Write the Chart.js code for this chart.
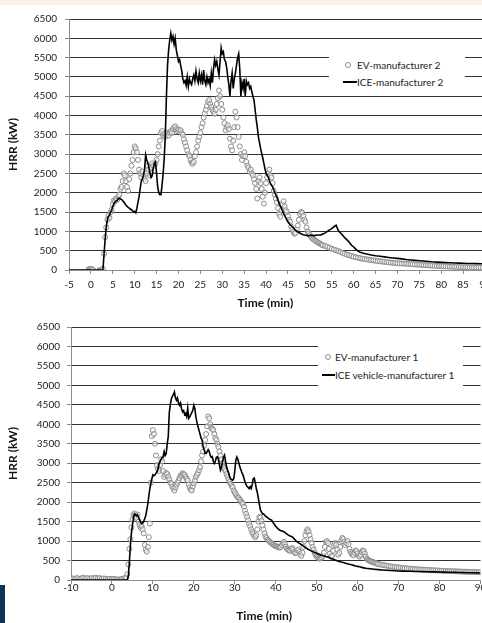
<!DOCTYPE html>
<html>
<head>
<meta charset="utf-8">
<script src="https://cdn.jsdelivr.net/npm/chart.js@4.4.0/dist/chart.umd.min.js"></script>
<style>
html,body{margin:0;padding:0;background:#fff;overflow:hidden;width:482px;height:623px;position:relative;}
#strip{position:absolute;left:0;top:0;width:482px;height:5px;background:#fbf1e6;}
#navy{position:absolute;left:0;top:585px;width:5px;height:38px;background:#0b3457;}
.wrap{position:absolute;left:0;width:500px;}
#w1{top:0;height:310px;}
#w2{top:312px;height:311px;}
.legend{position:absolute;background:#fff;font-family:Lato,'DejaVu Sans',sans-serif;font-size:10px;color:#222;z-index:5;}
.legend .row{position:absolute;height:12px;line-height:12px;white-space:nowrap;}
.legend .txt{position:absolute;top:0;}
.legend .dot{position:absolute;width:4px;height:4px;border:1px solid #8f8f8f;border-radius:50%;top:3px;background:#fff;}
.legend .ln{position:absolute;height:2px;background:#000;top:5px;}
</style>
</head>
<body>
<div id="strip"></div>
<div class="wrap" id="w1"><canvas id="c1"></canvas></div>
<div class="wrap" id="w2"><canvas id="c2"></canvas></div>
<div id="navy"></div>
<div class="legend" id="lg1" style="left:329px;top:44px;width:136px;height:48px;"></div>
<div class="legend" id="lg2" style="left:318px;top:336px;width:145px;height:60px;"></div>
<script>
// ---------- tick labels ----------
const yTicks = [0,500,1000,1500,2000,2500,3000,3500,4000,4500,5000,5500,6000,6500];
const xTicksTop = [-5,0,5,10,15,20,25,30,35,40,45,50,55,60,65,70,75,80,85,90];
const xTicksBottom = [-10,0,10,20,30,40,50,60,70,80,90];

// ---------- series names ----------
const topSeriesNames = ['EV-manufacturer 2','ICE-manufacturer 2'];
const bottomSeriesNames = ['EV-manufacturer 1','ICE vehicle-manufacturer 1'];

// ---------- TOP: EV-manufacturer 2 (HRR kW) ----------
// from -0.5 min every 0.25 min
const ev2A = [20,10,30,20,0];
// from 2.0 min every 0.25 min (one row per minute)
const ev2B = [
 0,0,0,30,
 420,850,1100,1300,
 1400,1350,1500,1560,
 1700,1800,1780,1850,
 1820,1900,1950,2100,
 2150,2300,2500,2450,
 2300,2150,2050,2350,
 2500,2700,2850,3050,
 3200,3150,3050,2850,
 2600,2500,2400,2550,
 2450,2350,2300,2500,
 2700,2600,2450,2650,
 2760,2700,2580,2750,
 2850,3000,3200,3350,
 3550,3600,3480,3520,
 3450,3500,3550,3480,
 3560,3600,3550,3650,
 3700,3720,3650,3600,
 3640,3580,3620,3540,
 3500,3380,3300,3200,
 3100,3000,2950,2850,
 2780,2750,2800,2950,
 3050,3200,3350,3450,
 3550,3700,3800,3950,
 4050,4150,4250,4350,
 4400,4300,4220,4150,
 4100,4050,4150,4300,
 4450,4650,4500,4300,
 4150,3950,3800,3620,
 3700,3750,3650,3400,
 3200,3100,3350,3700,
 4100,3950,3700,3450,
 3200,3000,2850,2950,
 3050,2950,2800,2700,
 2650,2550,2600,2500,
 2450,2350,2250,2100,
 1850,2300,2400,2250,
 2100,1900,1720,2000,
 2250,2400,2500,2600,
 2450,2400,2250,2050,
 1950,1850,1750,1600,
 1450,1380,1550,1700,
 1780,1650,1550,1500,
 1400,1300,1250,1120,
 1050,980,940,960,
 1050,1150,1300,1450,
 1500,1480,1400,1300,
 1250,1100,1000,950,
 900,860,830,800,
 780,760,740,720,
 700,690,670,650
];
// from 53 min every 0.5 min
const ev2C = [
 640,620,600,575,550,530,510,490,465,440,420,400,380,360,345,330,318,305,295,285,
 275,265,255,248,240,232,225,218,212,205,198,192,186,180,176,172,168,164,160,156,
 152,148,144,140,136,132,128,124,120,117,114,110,106,103,100,97,94,91,88,85,
 82,80,78,76,74,72,70,68,66,65,64,63,62,61,60
];

// ---------- TOP: ICE-manufacturer 2 (HRR kW) ----------
// from -5 min every 1 min
const ice2A = [0,0,0,0,0,0,0];
// from 2.0 min every 0.25 min
const ice2B = [
 0,0,0,10,
 400,800,1100,1300,
 1380,1420,1500,1550,
 1650,1720,1760,1790,
 1800,1850,1860,1840,
 1830,1800,1760,1720,
 1680,1650,1620,1600,
 1580,1560,1540,1500,
 1520,1480,1600,1750,
 1900,2100,2300,2350,
 2450,2600,2980,2850,
 2780,2650,2500,2400,
 2450,2650,2750,2800,
 2500,2150,2000,1950,
 1950,2200,2500,2900,
 3500,4500,5300,5700,
 5950,6130,5950,6050,
 5850,6000,5700,5550,
 5400,5450,5300,5150,
 4950,4850,4900,4780,
 5000,4750,4950,4850,
 4800,4950,5050,4900,
 5150,4950,4850,5100,
 4900,5050,4800,5180,
 4900,4800,5000,4850,
 4950,4780,5100,4850,
 5200,5450,5300,5400,
 5200,5050,5400,5750,
 5600,5650,5450,5400,
 5250,5000,4800,4500,
 4900,5100,4700,4950,
 5100,5300,5500,5600,
 5200,4500,4850,4700,
 4950,4500,4900,4800,
 4850,4700,4750,4620,
 4500,4400,4150,3900,
 3700,3450,3300,3150,
 3020,2900,2760,2620
];
// from 40 min every 0.5 min
const ice2C = [
 2500,2400,2240,2150,2000,1880,1720,1600,1460,1350,
 1250,1170,1120,1060,1010,970,940,915,900,890,
 895,900,890,900,905,910,930,960,1000,1040,
 1070,1120,1160,1020,960,900,830,780,720,640,
 600,540,490,460
];
// from 62 min every 1 min
const ice2D = [440,415,390,370,355,340,325,312,300,288,272,260,250,240,232,222,212,205,198,192,186,180,178,175,170,168,165,162,160];

// ---------- BOTTOM: EV-manufacturer 1 (HRR kW) ----------
// from -10 min every 0.5 min
const ev1A = [20,40,30,50,30,40,60,40,50,30,50,40,60,40,50,30,40,30,20,30,20,30,20,10,20,30];
// from 3.0 min every 0.25 min
const ev1B = [
 40,50,60,150,
 400,800,1050,1350,
 1550,1680,1710,1650,
 1600,1680,1500,1420,
 1350,1380,1300,1200,
 900,780,730,850,
 1100,1450,2500,3700,
 3850,3750,3500,3200,
 2950,2850,2800,2950,
 3100,3050,2800,2650,
 2700,2750,2720,2650,
 2580,2500,2480,2400,
 2350,2300,2380,2450,
 2500,2550,2620,2680,
 2700,2740,2720,2700,
 2650,2600,2560,2450,
 2380,2320,2300,2400,
 2480,2550,2650,2700,
 2750,2820,2900,3050,
 3200,3300,3450,3600,
 3750,3950,4200,4150,
 4000,3900,3880,3850,
 3750,3650,3600,3500,
 3420,3300,3200,3100,
 3000,2900,2850,2800,
 2720,2650,2580,2520,
 2470,2420,2380,2300,
 2250,2200,2150,2120,
 2100,2060,2020,1980,
 1950,1880,1780,1700,
 1620,1530,1450,1380,
 1300,1230,1180,1130,
 1100,1150,1300,1500,
 1620,1600,1520,1400,
 1300,1200,1120,1080,
 1040,1010,990,960,
 940,920,900,880,
 870,860,850,840,
 830,850,900,950,
 980,920,850,800,
 780,760,750,800,
 820,780,720,690,
 700,760,780,720,
 660,620,700,850,
 1000,1150,1250,1300,
 1250,1150,1050,950,
 850,780,700,640,
 600,580,560,550,
 560,580,620,700,
 850,980,1000,950,
 800,680,600,620,
 750,900,950,900,
 780,650,700,850,
 1000,1080,1050,980,
 900,950,1000,920,
 800,720,680,650,
 640,700,760,740,
 680,620,600,650,
 720,760,740,680,
 600,540,520,500,
 490,480,470,460,
 450,440,430,420
];
// from 65 min every 0.5 min
const ev1C = [
 410,400,390,380,370,360,350,340,335,328,322,
 316,310,304,298,292,288,284,280,276,272,
 268,265,262,259,256,253,250,247,244,241,
 238,235,232,230,228,226,224,222,220,218,
 216,214,212,210,208,206,204,202,200,198
];

// ---------- BOTTOM: ICE vehicle-manufacturer 1 (HRR kW) ----------
// from -10 min every 1 min
const ice1A = [0,0,0,0,0,0,0,0,0,0,0,0,0];
// from 3.0 min every 0.25 min
const ice1B = [
 0,0,0,10,
 100,450,900,1200,
 1400,1600,1700,1680,
 1650,1680,1600,1550,
 1480,1450,1460,1500,
 1580,1650,1800,1950,
 2150,2350,2480,2600,
 2700,2680,2700,2740,
 2780,2850,2990,3050,
 3100,3150,3160,3300,
 3200,3250,3500,3680,
 4300,4500,4650,4720,
 4760,4830,4680,4620,
 4680,4550,4490,4550,
 4400,4320,4350,4250,
 4280,4200,4420,4150,
 4190,4250,4300,4362,
 4490,4400,4190,4050,
 3950,3849,3750,3650,
 3592,3450,3350,3250,
 3250,3300,3350,3300,
 3200,3150,3170,3050,
 2994,3050,3150,3164,
 3100,2950,2823,2900,
 3050,3150,3208,3050,
 2900,2823,2750,2650,
 2600,2580,2566,2600,
 2800,3079,3160,3100,
 3000,2900,2830,2750,
 2700,2610,2520,2450,
 2400,2380,2350,2400,
 2350,2450,2600,2620,
 2500,2350,2250,2100,
 1950,1800,1750,1700
];
// from 37 min every 0.5 min
const ice1C = [
 1700,1640,1600,1560,1540,1450,1380,1320,1280,1260,
 1240,1200,1160,1130,1110,1060,1000,960,930,890,
 850,815,785,755,730,705,685,665,645,625,
 610,595,575,555,535,515,495,478,462,448,
 433,418,403,390,376,362,350,338,325,312
];
// from 62 min every 1 min
const ice1D = [300,288,276,266,258,250,244,238,232,229,226,223,220,217,214,212,210,208,206,203,200,198,195,192,190,188,185,182,180];

// ---------- helpers ----------
function seg(start, step, values){
  return values.map((v,i)=>({x:+(start+i*step).toFixed(3), y:v}));
}
const ev2Points  = [...seg(-0.5,0.25,ev2A), ...seg(2,0.25,ev2B), ...seg(53,0.5,ev2C)];
const ice2Points = [...seg(-5,1,ice2A), ...seg(2,0.25,ice2B), ...seg(40,0.5,ice2C), ...seg(62,1,ice2D)];
const ev1Points  = [...seg(-10,0.5,ev1A), ...seg(3,0.25,ev1B), ...seg(65,0.5,ev1C)];
const ice1Points = [...seg(-10,1,ice1A), ...seg(3,0.25,ice1B), ...seg(37,0.5,ice1C), ...seg(62,1,ice1D)];

Chart.defaults.font.family = "Lato, 'DejaVu Sans', sans-serif";
Chart.defaults.color = '#222';

function evDataset(label, pts){
  return {label, data:pts, showLine:false, pointRadius:2.5, pointBorderWidth:1,
    pointBorderColor:'#8a8a8a', pointBackgroundColor:'rgba(255,255,255,0.5)', order:2};
}
function iceDataset(label, pts){
  return {label, data:pts, showLine:true, borderColor:'#000', borderWidth:1.6,
    pointRadius:0, fill:false, tension:0, order:1};
}

function makeOptions(p){
  return {
    animation:false, responsive:true, maintainAspectRatio:false, events:[],
    layout:{padding:{left:0, top:p.top, right:p.right, bottom:0}},
    plugins:{legend:{display:false}, tooltip:{enabled:false}},
    scales:{
      x:{type:'linear', min:p.xmin, max:p.xmax,
        afterBuildTicks:s=>{s.ticks = p.xticks.map(v=>({value:v}));},
        afterFit:s=>{s.height = p.xh;},
        grid:{drawOnChartArea:false, drawTicks:true, tickLength:4, tickColor:'#8c8c8c'},
        border:{color:'#8c8c8c', width:1},
        ticks:{padding:p.xpad, color:'#222', font:{size:10}, maxRotation:0, autoSkip:false,
               callback:v=>String(v)},
        title:{display:true, text:'Time (min)' + '\u0020'.repeat(8), color:'#111', font:{size:12, weight:'bold'}, padding:{top:0,bottom:0}}
      },
      y:{type:'linear', min:0, max:6500,
        afterBuildTicks:s=>{s.ticks = yTicks.map(v=>({value:v}));},
        afterFit:s=>{s.width = p.yw;},
        grid:{color:c=>(c.tick && c.tick.value===0)?'#8c8c8c':'#333', lineWidth:1, drawTicks:true, tickLength:4, tickColor:'#8c8c8c'},
        border:{color:'#8c8c8c', width:1},
        ticks:{padding:p.ypad, color:'#222', font:{size:10}, callback:v=>String(v)},
        title:{display:true, text:'HRR (kW)', color:'#111', font:{size:12, weight:'bold'}, padding:{top:6,bottom:0}}
      }
    }
  };
}

const chartTop = new Chart(document.getElementById('c1'), {
  type:'scatter',
  data:{datasets:[evDataset(topSeriesNames[0], ev2Points), iceDataset(topSeriesNames[1], ice2Points)]},
  options:makeOptions({top:19, right:15, xmin:-5, xmax:90, xticks:xTicksTop, xh:40, xpad:5, yw:69, ypad:8})
});
const chartBottom = new Chart(document.getElementById('c2'), {
  type:'scatter',
  data:{datasets:[evDataset(bottomSeriesNames[0], ev1Points), iceDataset(bottomSeriesNames[1], ice1Points)]},
  options:makeOptions({top:15, right:19.5, xmin:-10, xmax:90, xticks:xTicksBottom, xh:43, xpad:-2, yw:71, ypad:7})
});

// HTML legend built from the chart datasets
function buildLegend(el, chart, rows){
  chart.data.datasets.forEach((ds,i)=>{
    const r = rows[i];
    const row = document.createElement('div');
    row.className = 'row';
    row.style.top = r.top + 'px'; row.style.left = '0px'; row.style.width = '100%';
    const mk = document.createElement('div');
    if (ds.showLine){ mk.className='ln'; mk.style.left=r.mx+'px'; mk.style.width=r.mw+'px'; }
    else { mk.className='dot'; mk.style.left=r.mx+'px'; }
    const tx = document.createElement('div');
    tx.className='txt'; tx.style.left=r.tx+'px'; tx.textContent = ds.label;
    row.appendChild(mk); row.appendChild(tx); el.appendChild(row);
  });
}
buildLegend(document.getElementById('lg1'), chartTop, [
  {top:15, mx:16, tx:28}, {top:32, mx:14, mw:14, tx:28}
]);
buildLegend(document.getElementById('lg2'), chartBottom, [
  {top:15, mx:7, tx:17}, {top:33, mx:4, mw:13, tx:17}
]);
</script>
</body>
</html>
